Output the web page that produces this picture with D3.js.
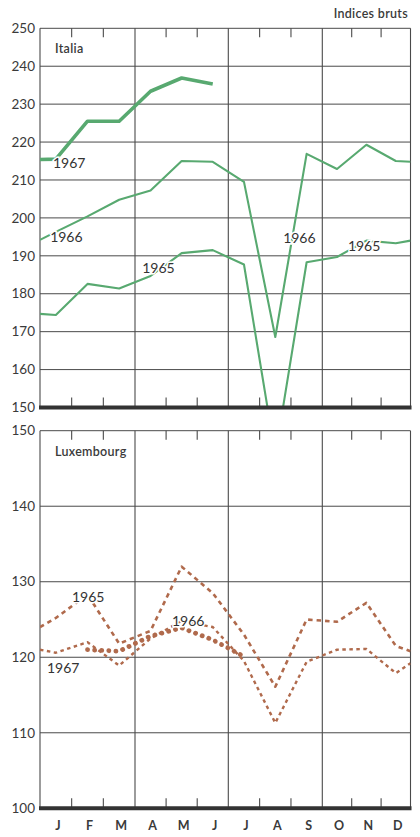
<!DOCTYPE html>
<html>
<head>
<meta charset="utf-8">
<script src="https://cdn.jsdelivr.net/npm/d3@7"></script>
<style>
  html, body { margin: 0; padding: 0; background: #ffffff; }
  svg { display: block; }
  text { font-family: Lato, "Open Sans", sans-serif; fill: #3a3a3a; }
</style>
</head>
<body>
<script>
// ---------- DATA ----------
// Month labels (x categories)
const months = ["J", "F", "M", "A", "M", "J", "J", "A", "S", "O", "N", "D"];
// Each series: [value at left frame edge, J..D, value at right frame edge]
const italia1965 = [174.7, 174.4, 182.6, 181.4, 184.7, 190.7, 191.5, 187.7, 137.5, 188.3, 189.7, 194.0, 193.3, 194.0];
const italia1966 = [194.2, 196.3, 200.4, 204.8, 207.2, 215.0, 214.8, 209.5, 168.6, 216.9, 212.9, 219.3, 215.0, 214.8];
const italia1967 = [215.4, 215.5, 225.5, 225.5, 233.4, 236.9, 235.3, null, null, null, null, null, null, null];
const lux1965 = [124.0, 125.2, 128.3, 121.8, 123.5, 132.0, 128.5, 123.0, 116.1, 125.0, 124.7, 127.2, 121.5, 120.8];
const lux1966 = [121.0, 120.6, 122.0, 118.9, 122.5, 124.8, 124.0, 119.5, 111.3, 119.4, 121.0, 121.1, 117.9, 119.2];
const lux1967 = [null, null, 121.0, 120.8, 122.8, 123.9, 122.3, 120.1, null, null, null, null, null, null];
// Axis ticks
const italiaTicks = [150, 160, 170, 180, 190, 200, 210, 220, 230, 240, 250];
const luxTicks = [100, 110, 120, 130, 140, 150];
// Year labels: m = month position (0..12), v = value
const italiaLabels = [
  { text: "1967", m: 0.41, v: 213.1 },
  { text: "1966", m: 0.32, v: 193.6 },
  { text: "1965", m: 3.23, v: 185.4 },
  { text: "1966", m: 7.75, v: 193.3 },
  { text: "1965", m: 9.87, v: 191.4 }
];
const luxLabels = [
  { text: "1965", m: 1.01, v: 127.3 },
  { text: "1966", m: 4.19, v: 124.2 },
  { text: "1967", m: 0.22, v: 117.9 }
];

// ---------- LAYOUT ----------
const W = 420, H = 837;
const svg = d3.select("body").append("svg").attr("width", W).attr("height", H);

const x = d3.scaleLinear().domain([0, 3, 6, 9, 12]).range([40, 135, 228.3, 322.3, 410.5]);
const yIt = d3.scaleLinear().domain([150, 250]).range([407.5, 28.3]);
const yLu = d3.scaleLinear().domain([100, 150]).range([808.3, 430.7]);

const pos = i => (i === 0 ? 0 : i === 13 ? 12 : i - 0.5);
const toPts = arr => arr.map((v, i) => ({ p: pos(i), v }));

const GRID = "#4a4a4a";
const GREEN = "#58a970";
const BROWN = "#b06a4c";

function panel(id, y, ticks, series, labels, name) {
  const g = svg.append("g");
  const [lo, hi] = y.domain();
  // clip
  svg.append("clipPath").attr("id", id)
    .append("rect").attr("x", x(0)).attr("y", y(hi))
    .attr("width", x(12) - x(0)).attr("height", y(lo) - y(hi));

  // horizontal gridlines
  g.selectAll("line.h").data(ticks.filter(t => t !== lo)).join("line")
    .attr("x1", x(0)).attr("x2", x(12))
    .attr("y1", d => y(d)).attr("y2", d => y(d))
    .attr("stroke", GRID).attr("stroke-width", 1);
  // vertical quarter lines + frame
  g.selectAll("line.v").data([0, 3, 6, 9, 12]).join("line")
    .attr("x1", d => x(d)).attr("x2", d => x(d))
    .attr("y1", y(hi)).attr("y2", y(lo))
    .attr("stroke", GRID).attr("stroke-width", 1.1);
  // month ticks
  const mt = [1, 2, 4, 5, 7, 8, 10, 11];
  g.selectAll("line.tt").data(mt).join("line")
    .attr("x1", d => x(d)).attr("x2", d => x(d))
    .attr("y1", y(hi)).attr("y2", y(hi) + 9)
    .attr("stroke", GRID).attr("stroke-width", 1.1);
  g.selectAll("line.tb").data(mt).join("line")
    .attr("class", "tb")
    .attr("x1", d => x(d)).attr("x2", d => x(d))
    .attr("y1", y(lo) - 10).attr("y2", y(lo))
    .attr("stroke", GRID).attr("stroke-width", 1.1);

  // tick labels
  g.selectAll("text.tk").data(ticks).join("text")
    .attr("x", 35).attr("y", d => y(d)).attr("dy", "0.35em")
    .attr("text-anchor", "end").attr("font-size", 13.5)
    .text(d => d);

  // panel name
  g.append("text").attr("x", x(0) + 15).attr("y", y(hi) + 25)
    .attr("font-size", 12.5).attr("font-weight", 600).attr("letter-spacing", 0.3)
    .text(name);

  // series
  const line = d3.line().defined(d => d.v != null).x(d => x(d.p)).y(d => y(d.v));
  const sg = svg.append("g").attr("clip-path", `url(#${id})`);
  series.forEach(s => {
    sg.append("path").datum(toPts(s.data))
      .attr("d", line).attr("fill", "none")
      .attr("stroke", s.color).attr("stroke-width", s.width)
      .attr("stroke-linecap", s.cap || "butt")
      .attr("stroke-linejoin", "round")
      .attr("stroke-dasharray", s.dash || null);
  });

  // year labels
  svg.append("g").selectAll("text").data(labels).join("text")
    .attr("x", d => x(d.m)).attr("y", d => y(d.v))
    .attr("font-size", 14)
    .attr("stroke", "#ffffff").attr("stroke-width", 3).attr("paint-order", "stroke")
    .style("fill", "#333")
    .text(d => d.text);

  // thick baseline
  svg.append("line").attr("x1", x(0) - 1).attr("x2", x(12) + 1)
    .attr("y1", y(lo)).attr("y2", y(lo))
    .attr("stroke", "#333").attr("stroke-width", 4);
}

panel("clipIt", yIt, italiaTicks, [
  { data: italia1965, color: GREEN, width: 2.1 },
  { data: italia1966, color: GREEN, width: 2.1 },
  { data: italia1967, color: GREEN, width: 3.6 }
], italiaLabels, "Italia");

panel("clipLu", yLu, luxTicks, [
  { data: lux1965, color: BROWN, width: 2.6, dash: "4.5 4", cap: "butt" },
  { data: lux1966, color: BROWN, width: 2.4, dash: "3.5 3.5", cap: "butt" },
  { data: lux1967, color: BROWN, width: 4.8, dash: "0.1 7", cap: "round" }
], luxLabels, "Luxembourg");

// header
svg.append("text").attr("x", 408).attr("y", 18)
  .attr("text-anchor", "end").attr("font-size", 12.5).attr("font-weight", 600)
  .attr("letter-spacing", 0.3)
  .text("Indices bruts");

// month labels
svg.append("g").selectAll("text").data(months).join("text")
  .attr("x", (d, i) => x(i + 0.5) + 2).attr("y", 830)
  .attr("text-anchor", "middle").attr("font-size", 12.5).attr("font-weight", 700)
  .text(d => d);
</script>
</body>
</html>
